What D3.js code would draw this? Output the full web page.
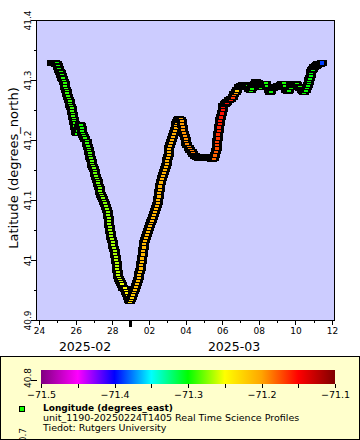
<!DOCTYPE html>
<html><head><meta charset="utf-8">
<script src="https://cdn.jsdelivr.net/npm/d3@7"></script>
<style>
html,body{margin:0;padding:0;background:#fff;}
svg{display:block;font-family:"DejaVu Sans",sans-serif;}
</style>
</head><body>
<svg id="chart" width="360" height="440"></svg>
<script>
// ---- DATA ----
// time of each profile, in days after 2025-02-24T00:00Z
const dayOffsets = [
 0.710,0.765,0.819,0.874,0.928,0.983,1.021,1.054,1.087,1.119,1.152,1.185,1.218,1.251,1.283,1.316,
 1.349,1.393,1.436,1.474,1.518,1.556,1.600,1.638,1.676,1.709,1.747,1.780,1.813,1.846,1.873,1.900,1.928,1.955,1.982,2.010,2.037,2.075,
 2.130,2.184,2.239,2.294,2.332,2.370,2.403,2.457,
 2.528,2.594,2.643,2.676,2.709,2.741,2.774,2.807,2.840,2.878,2.916,2.954,2.998,3.042,3.085,3.129,3.167,3.206,3.244,3.276,3.309,3.348,3.386,3.429,3.479,
 3.539,3.604,3.670,3.724,3.757,3.779,3.801,3.823,3.844,3.866,3.888,3.915,3.948,3.986,4.025,4.063,4.096,4.128,4.156,4.183,4.210,4.238,4.259,4.281,4.303,4.330,4.358,
 4.396,4.451,4.522,4.598,4.675,4.740,4.795,4.844,4.893,4.948,
 5.013,5.068,5.117,5.166,5.221,5.281,5.341,5.395,5.444,5.488,
 5.521,5.548,5.575,5.603,5.630,5.652,5.679,5.712,5.750,5.799,
 5.854,5.909,5.963,6.018,6.067,6.111,6.154,6.203,6.263,6.335,
 6.400,6.455,6.493,6.520,6.548,6.575,6.602,6.630,6.662,6.700,
 6.750,6.810,6.875,6.930,6.979,7.017,7.045,7.072,7.099,7.126,
 7.165,7.208,7.257,7.307,7.356,7.405,7.454,7.503,7.553,7.607,
 7.667,7.727,
 7.782,7.825,7.858,7.885,7.918,7.956,8.000,8.049,8.104,8.169,8.246,8.328,8.421,8.519,8.628,8.748,
 8.874,9.000,9.120,9.245,9.365,9.474,9.556,
 9.611,9.655,9.693,9.720,9.742,9.764,9.786,9.808,9.829,9.857,9.895,9.939,9.982,10.026,10.075,10.130,10.201,10.283,10.376,10.474,10.567,10.649,10.731,10.812,10.905,11.004,11.113,11.222,
 11.304,11.386,11.468,11.550,11.632,11.713,11.795,11.877,11.959,12.041,
 12.123,12.205,12.287,12.369,12.451,12.533,12.614,12.696,12.778,12.860,
 12.942,13.024,13.106,13.188,13.270,13.352,13.434,13.515,13.597,13.679,
 13.761,13.843,13.925,14.007,14.089,14.171,14.253,14.335,14.417,14.498,
 14.580,
 14.635,14.679,14.717,14.755,14.793,14.832,14.870,14.919,14.974,15.034,15.099,15.170,15.247,15.323,15.454
];
// latitude, degrees north
const latitudes = [
 41.329,41.329,41.329,41.328,41.327,41.326,41.323,41.321,41.318,41.316,41.313,41.311,41.308,41.306,41.303,41.301,
 41.297,41.293,41.288,41.284,41.280,41.276,41.272,41.267,41.263,41.259,41.255,41.251,41.247,41.242,41.238,41.234,41.230,41.226,41.222,41.217,41.213,41.211,
 41.216,41.221,41.225,41.223,41.219,41.214,41.209,41.205,
 41.201,41.197,41.193,41.188,41.184,41.180,41.176,41.172,41.168,41.163,41.159,41.155,41.151,41.147,41.143,41.138,41.134,41.130,41.126,41.122,41.118,41.113,41.109,41.105,41.101,
 41.097,41.093,41.088,41.084,41.079,41.074,41.069,41.064,41.059,41.054,41.049,41.044,41.039,41.034,41.029,41.024,41.019,41.014,41.009,41.004,40.999,40.994,40.989,40.984,40.979,40.974,40.969,
 40.965,40.961,40.958,40.954,40.951,40.947,40.943,40.938,40.934,40.932,
 40.935,40.939,40.943,40.948,40.952,40.956,40.961,40.966,40.971,40.976,
 40.981,40.987,40.993,40.998,41.004,41.010,41.016,41.022,41.028,41.033,
 41.038,41.043,41.048,41.053,41.058,41.063,41.067,41.072,41.077,41.081,
 41.086,41.091,41.096,41.101,41.107,41.113,41.118,41.124,41.130,41.136,
 41.141,41.146,41.151,41.156,41.161,41.166,41.171,41.176,41.181,41.186,
 41.191,41.196,41.201,41.206,41.211,41.216,41.221,41.226,41.230,41.233,
 41.235,41.234,
 41.230,41.225,41.220,41.215,41.210,41.205,41.200,41.195,41.191,41.187,41.183,41.180,41.177,41.174,41.172,41.170,
 41.170,41.172,41.171,41.172,41.170,41.168,41.170,
 41.175,41.181,41.187,41.193,41.199,41.204,41.210,41.216,41.222,41.228,41.233,41.239,41.245,41.251,41.256,41.260,41.262,41.264,41.266,41.268,41.272,41.276,41.280,41.284,41.288,41.290,41.292,41.292,
 41.290,41.288,41.285,41.284,41.287,41.291,41.294,41.296,41.295,41.293,
 41.289,41.291,41.294,41.293,41.288,41.283,41.280,41.282,41.286,41.288,
 41.289,41.290,41.290,41.291,41.293,41.293,41.288,41.283,41.281,41.284,
 41.288,41.292,41.293,41.293,41.291,41.288,41.286,41.283,41.281,41.280,
 41.283,
 41.288,41.292,41.296,41.300,41.304,41.308,41.313,41.316,41.319,41.322,41.324,41.325,41.327,41.327,41.328
];
// longitude, degrees east (colour variable)
const longitudes = [
 -71.300,-71.300,-71.299,-71.299,-71.298,-71.298,-71.297,-71.297,-71.296,-71.296,-71.295,-71.295,-71.294,-71.294,-71.293,-71.293,
 -71.292,-71.292,-71.291,-71.291,-71.290,-71.290,-71.290,-71.289,-71.289,-71.289,-71.288,-71.288,-71.288,-71.288,-71.289,-71.290,-71.291,-71.292,-71.293,-71.294,-71.295,-71.296,
 -71.297,-71.298,-71.298,-71.297,-71.296,-71.295,-71.294,-71.293,
 -71.292,-71.291,-71.290,-71.289,-71.288,-71.287,-71.286,-71.285,-71.284,-71.284,-71.283,-71.283,-71.282,-71.282,-71.281,-71.281,-71.280,-71.280,-71.279,-71.279,-71.278,-71.278,-71.277,-71.277,-71.276,
 -71.276,-71.275,-71.275,-71.274,-71.274,-71.273,-71.273,-71.272,-71.272,-71.271,-71.271,-71.270,-71.270,-71.269,-71.269,-71.268,-71.268,-71.267,-71.267,-71.266,-71.266,-71.265,-71.265,-71.264,-71.264,-71.263,-71.262,
 -71.260,-71.257,-71.254,-71.251,-71.249,-71.246,-71.243,-71.240,-71.237,-71.234,
 -71.228,-71.224,-71.220,-71.217,-71.215,-71.214,-71.214,-71.213,-71.213,-71.213,
 -71.212,-71.212,-71.212,-71.212,-71.211,-71.211,-71.211,-71.211,-71.211,-71.210,
 -71.210,-71.210,-71.210,-71.210,-71.210,-71.209,-71.209,-71.209,-71.209,-71.209,
 -71.208,-71.208,-71.208,-71.208,-71.208,-71.208,-71.207,-71.207,-71.207,-71.207,
 -71.207,-71.206,-71.206,-71.206,-71.206,-71.206,-71.205,-71.205,-71.205,-71.205,
 -71.204,-71.204,-71.204,-71.203,-71.203,-71.203,-71.202,-71.202,-71.201,-71.201,
 -71.200,-71.200,
 -71.199,-71.198,-71.197,-71.196,-71.195,-71.194,-71.193,-71.192,-71.191,-71.190,-71.189,-71.189,-71.188,-71.188,-71.187,-71.187,
 -71.186,-71.186,-71.185,-71.185,-71.184,-71.183,-71.182,
 -71.180,-71.177,-71.174,-71.171,-71.168,-71.166,-71.164,-71.162,-71.160,-71.158,-71.157,-71.156,-71.155,-71.154,-71.153,-71.152,-71.152,-71.153,-71.155,-71.158,-71.165,-71.180,-71.200,-71.220,-71.240,-71.260,-71.280,-71.290,
 -71.294,-71.295,-71.296,-71.296,-71.297,-71.297,-71.298,-71.298,-71.298,-71.297,
 -71.297,-71.296,-71.296,-71.296,-71.297,-71.297,-71.298,-71.298,-71.298,-71.297,
 -71.297,-71.296,-71.296,-71.295,-71.295,-71.296,-71.296,-71.297,-71.297,-71.298,
 -71.298,-71.297,-71.297,-71.296,-71.296,-71.295,-71.295,-71.296,-71.297,-71.298,
 -71.299,
 -71.299,-71.300,-71.300,-71.301,-71.301,-71.302,-71.302,-71.303,-71.303,-71.304,-71.304,-71.305,-71.306,-71.310,-71.388
];
const yTickValues = [40.9, 41.0, 41.1, 41.2, 41.3, 41.4];
const yMinorValues = [40.95, 41.05, 41.15, 41.25, 41.35];
const yExtraLabels = ["40.8", "40.7"];
const monthLabels = ["2025-02", "2025-03"];
const colorbarStops = [-71.5,-71.45,-71.4,-71.35,-71.3,-71.25,-71.2,-71.15,-71.1];
const colorbarColors = ["#800080","#ff00ff","#0000ff","#00ffff","#00ff00","#ffff00","#ffa500","#ff0000","#800000"];
const colorbarLabels = [-71.5,-71.4,-71.3,-71.2,-71.1];
const legendTitle = "Longitude (degrees_east)";
const legendLines = ["unit_1190-20250224T1405 Real Time Science Profiles", "Tiedot: Rutgers University"];
const yTitle = "Latitude (degrees_north)";

// ---- LAYOUT ----
const svg = d3.select("#chart");
const P = {left: 36.5, right: 334.5, top: 20.5, bottom: 320.5};
const t0 = Date.UTC(2025, 1, 24);
const x = d3.scaleUtc().domain([new Date(t0), new Date(Date.UTC(2025, 2, 12))]).range([39, 332]);
const y = d3.scaleLinear().domain([40.9, 41.4]).range([320, 20]);
const color = d3.scaleLinear().domain(colorbarStops).range(colorbarColors).interpolate(d3.interpolateRgb).clamp(true);

const pts = dayOffsets.map((d, i) => ({t: new Date(t0 + d * 864e5), lat: latitudes[i], lon: longitudes[i]}));

svg.append("rect").attr("width", 360).attr("height", 440).attr("fill", "#fff");

// plot area
svg.append("rect").attr("x", P.left).attr("y", P.top)
  .attr("width", P.right - P.left).attr("height", P.bottom - P.top).attr("fill", "#ccccff");

svg.append("clipPath").attr("id", "clip").append("rect")
  .attr("x", P.left).attr("y", P.top).attr("width", P.right - P.left).attr("height", P.bottom - P.top);

// markers: black square with a colour-filled centre, drawn in time order
const mk = svg.append("g").attr("clip-path", "url(#clip)").attr("shape-rendering", "crispEdges")
  .selectAll("g").data(pts).join("g")
  .attr("transform", d => `translate(${Math.round(x(d.t))},${Math.round(y(d.lat))})`);
mk.append("rect").attr("x", -5).attr("y", -3).attr("width", 10).attr("height", 6).attr("fill", "#000");
mk.append("rect").attr("x", -2).attr("y", -2).attr("width", 4).attr("height", 4).attr("fill", d => color(d.lon));

// frame
svg.append("rect").attr("x", P.left).attr("y", P.top)
  .attr("width", P.right - P.left).attr("height", P.bottom - P.top)
  .attr("fill", "none").attr("stroke", "#000").attr("shape-rendering", "crispEdges");

// x axis
const leftDate = x.invert(P.left), rightDate = x.invert(P.right);
const allDays = d3.utcDay.range(leftDate, rightDate);
const majorDays = allDays.filter(d => d.getUTCDate() % 2 === 0);
const xg = svg.append("g").attr("transform", `translate(0,${P.bottom})`);
xg.append("g").call(d3.axisBottom(x).tickValues(allDays).tickSize(2).tickFormat(""));
xg.append("g").call(d3.axisBottom(x).tickValues(majorDays).tickSize(4).tickPadding(3).tickFormat(d3.utcFormat("%d")));
xg.selectAll(".domain").remove();
xg.selectAll("text").attr("font-family", "DejaVu Sans").attr("font-size", 9).attr("fill", "#000");
xg.selectAll("line").attr("shape-rendering", "crispEdges");

// month boundary marks and month labels
const months = d3.utcMonth.range(d3.utcMonth.floor(leftDate), rightDate);
months.forEach((m, i) => {
  if (m > leftDate) {
    svg.append("rect").attr("x", Math.floor(x(m)) - 1).attr("y", P.bottom + 0.5)
      .attr("width", 3).attr("height", 6).attr("fill", "#000");
  }
  const a = Math.max(x(m), P.left), b = Math.min(x(d3.utcMonth.offset(m, 1)), P.right);
  svg.append("text").attr("x", (a + b) / 2 + 1.5).attr("y", 350.5).attr("text-anchor", "middle")
    .attr("font-size", 12.5).text(monthLabels[i]);
});

// y axis
const yg = svg.append("g").attr("transform", `translate(${P.left},0)`);
yg.append("g").call(d3.axisLeft(y).tickValues(yMinorValues).tickSize(3).tickFormat(""));
yg.append("g").call(d3.axisLeft(y).tickValues(yTickValues).tickSize(6).tickFormat(d => String(+d.toFixed(2))));
yg.selectAll(".domain").remove();
yg.selectAll("line").attr("shape-rendering", "crispEdges");
yg.selectAll(".tick text")
  .attr("transform", "rotate(-90)").attr("x", 0).attr("y", -6).attr("dy", "0")
  .attr("text-anchor", "middle").attr("font-family", "DejaVu Sans").attr("font-size", 9).attr("fill", "#000");

svg.append("text").attr("transform", "translate(18,168) rotate(-90)")
  .attr("text-anchor", "middle").attr("font-size", 13).text(yTitle);

// legend box
svg.append("rect").attr("x", 0.5).attr("y", 356.5).attr("width", 359).attr("height", 83)
  .attr("fill", "#ffffcc").attr("stroke", "#000").attr("shape-rendering", "crispEdges");

// colour bar
const cb = d3.scaleLinear().domain([-71.5, -71.1]).range([41, 335]);
const grad = svg.append("defs").append("linearGradient").attr("id", "cbgrad")
  .attr("x1", "0%").attr("x2", "100%").attr("y1", "0%").attr("y2", "0%");
colorbarStops.forEach((s, i) => grad.append("stop")
  .attr("offset", (s - colorbarStops[0]) / (colorbarStops[colorbarStops.length - 1] - colorbarStops[0]))
  .attr("stop-color", colorbarColors[i]));
svg.append("rect").attr("x", cb(-71.5)).attr("y", 370).attr("width", cb(-71.1) - cb(-71.5)).attr("height", 14)
  .attr("fill", "url(#cbgrad)");
const cbg = svg.append("g").attr("transform", "translate(0,384)");
cbg.append("g").call(d3.axisBottom(cb).tickValues(colorbarStops).tickSize(4).tickFormat(""));
cbg.append("g").call(d3.axisBottom(cb).tickValues(colorbarLabels).tickSize(4).tickPadding(3).tickFormat(d3.format(".1f")));
cbg.selectAll(".domain").remove();
cbg.selectAll("line").attr("shape-rendering", "crispEdges");
cbg.selectAll("text").attr("font-family", "DejaVu Sans").attr("font-size", 9.5).attr("fill", "#000");

// leaked y-axis labels below the plot
svg.append("line").attr("x1", 31).attr("x2", 37).attr("y1", 380.5).attr("y2", 380.5)
  .attr("stroke", "#000").attr("shape-rendering", "crispEdges");
svg.append("text").attr("transform", "translate(31,378) rotate(-90)").attr("text-anchor", "middle")
  .attr("font-size", 9).text(yExtraLabels[0]);
svg.append("text").attr("transform", "translate(25.5,438) rotate(-90)").attr("text-anchor", "middle")
  .attr("font-size", 9).text(yExtraLabels[1]);

// legend entry
svg.append("rect").attr("x", 19.5).attr("y", 406.5).attr("width", 5).attr("height", 5)
  .attr("fill", "#11ff00").attr("stroke", "#000").attr("shape-rendering", "crispEdges");
svg.append("text").attr("x", 43).attr("y", 411).attr("font-size", 9).attr("font-weight", "bold").text(legendTitle);
legendLines.forEach((s, i) => svg.append("text").attr("x", 43).attr("y", 421 + i * 9.5)
  .attr("font-size", 9.5).text(s));
</script>
</body></html>
